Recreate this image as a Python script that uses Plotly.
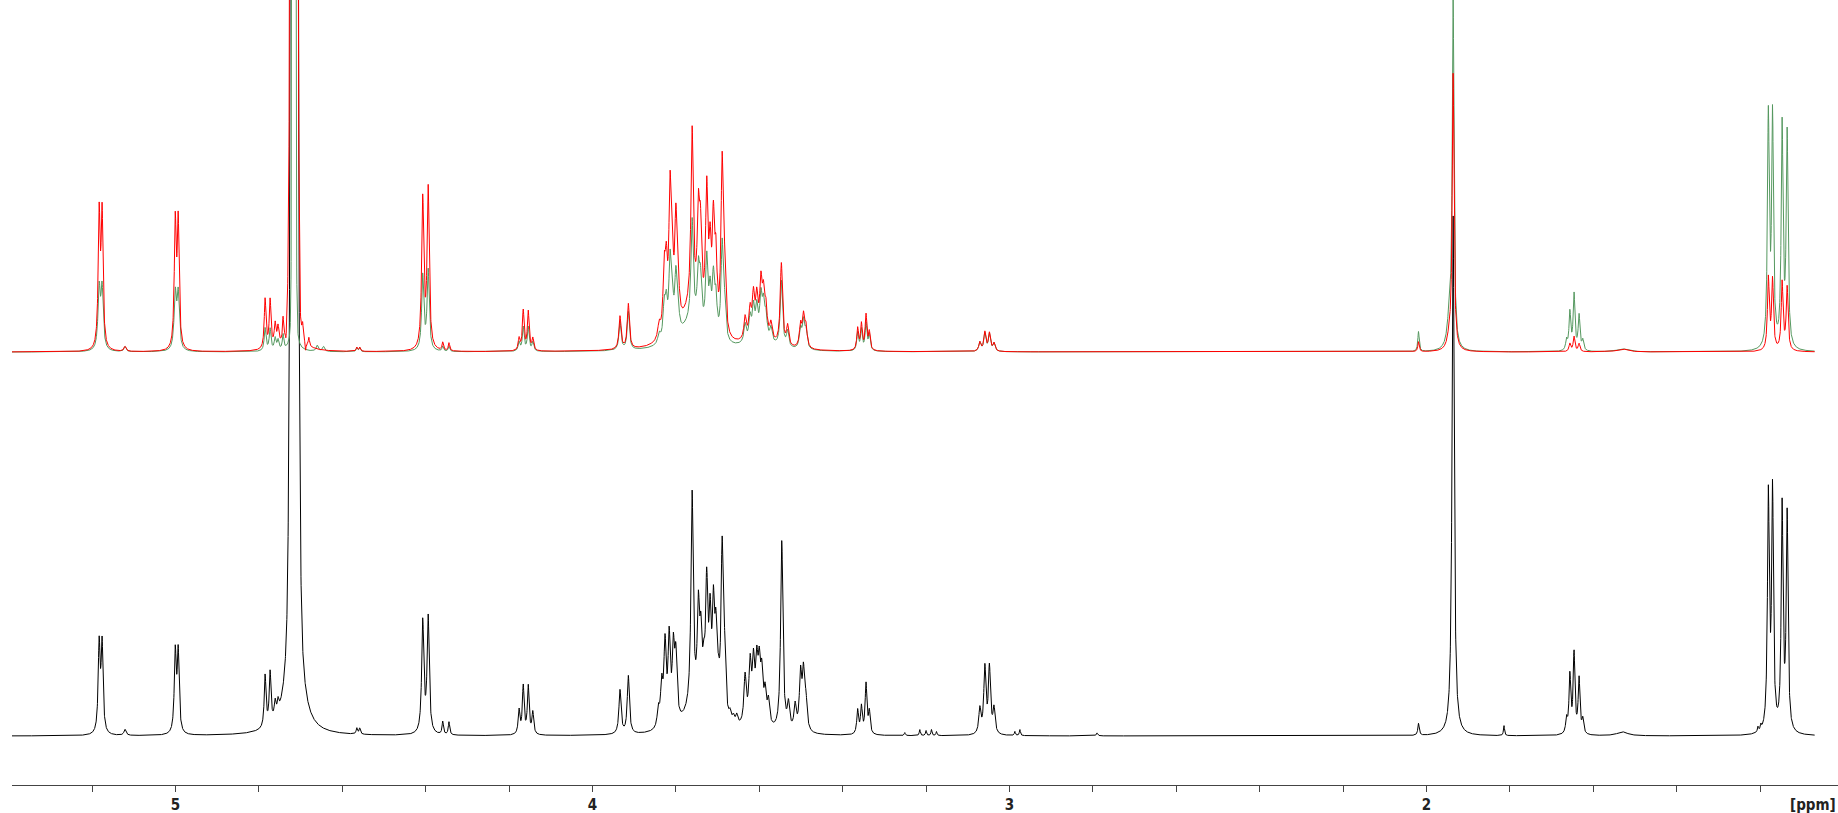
import numpy as np
import plotly.graph_objects as go

# ---------------- axis / layout values ----------------
x_range = [5.392, 1.013]          # ppm, reversed (NMR convention)
data_left, data_right = 5.392, 1.069
major_ticks = [5, 4, 3, 2]
major_labels = ["5", "4", "3", "2"]
black_base = 49                   # baseline offset of lower (black) spectrum
upper_base = 433                  # baseline offset of upper (red / green) spectra
y_top = 785

# ---------------- black (lower) spectrum: peak list ----------------
black_ppm = [5.183, 5.176, 5.121, 5.0005, 4.9935, 4.785, 4.773, 4.761, 4.754,
             4.565, 4.558, 4.407, 4.394, 4.359, 4.344, 4.176, 4.166, 4.154, 4.143,
             3.934, 3.914,
             3.842, 3.834, 3.826, 3.816, 3.806, 3.800, 3.761, 3.746, 3.740, 3.733,
             3.726, 3.718, 3.710, 3.704, 3.698, 3.689, 3.683, 3.670, 3.662, 3.654,
             3.634, 3.622, 3.614, 3.606, 3.600, 3.594, 3.586, 3.578, 3.546, 3.530,
             3.514, 3.501, 3.494, 3.488, 3.76, 3.61,
             3.364, 3.355, 3.344, 3.336, 3.251, 3.215, 3.200, 3.187, 3.175,
             3.071, 3.059, 3.048, 3.037, 2.987, 2.975, 2.79, 2.019, 1.936, 1.814,
             1.664, 1.656, 1.646, 1.634, 1.625, 1.53, 1.205, 1.198,
             1.180, 1.170, 1.147, 1.135]
black_int = [88, 88, 6, 80, 80, 52, 52, 16, 12,
             6, 6, 112, 116, 13, 13, 24, 48, 48, 22,
             44, 58,
             18, 40, 80, 85, 70, 62, 215, 95, 65, 35,
             125, 90, 100, 75, 25, 170, 55, 10, 8, 10,
             47, 55, 53, 51, 49, 44, 30, 24, 190, 25,
             25, 55, 55, 28, 20, 12,
             24, 27, 50, 22, 3, 6, 5, 6, 4,
             25, 66, 66, 25, 4, 6, 3, 12, 520, 10,
             14, 58, 80, 55, 14, 4, 5, 5,
             234, 238, 224, 216]
black_fwhm = [.0055, .0055, .006, .0055, .0055, .005, .005, .005, .005,
              .004, .004, .006, .006, .004, .004, .005, .005, .005, .005,
              .006, .006,
              .0065, .0065, .0065, .0065, .0065, .0065, .0065, .0065, .0065, .0065,
              .0065, .0065, .0065, .0065, .0065, .0065, .0065, .0065, .0065, .0065,
              .0065, .0065, .0065, .0065, .0065, .0065, .0065, .0065, .0065, .0065,
              .0065, .0065, .0065, .0065, .06, .05,
              .005, .005, .005, .005, .003, .003, .003, .003, .003,
              .006, .006, .006, .006, .003, .003, .004, .004, .006, .003,
              .005, .005, .005, .005, .005, .03, .003, .003,
              .0052, .0052, .0052, .0052]
black_water = [4.715, 3000, 0.013, 0.3]      # ppm, height, fwhm, lorentz fraction

# ---------------- red (upper) spectrum: peak list ----------------
red_ppm = [5.183, 5.176, 5.121, 5.0005, 4.9935, 4.785, 4.773, 4.761, 4.754,
           4.742, 4.735, 4.700, 4.695, 4.688, 4.680,
           4.565, 4.558, 4.407, 4.394, 4.359, 4.344, 4.176, 4.166, 4.154, 4.143,
           3.934, 3.914,
           3.840, 3.828, 3.823, 3.814, 3.809, 3.800, 3.795, 3.761, 3.746, 3.741,
           3.726, 3.718, 3.710, 3.704, 3.689, 3.683,
           3.634, 3.622, 3.614, 3.606, 3.596, 3.590, 3.584, 3.572, 3.547, 3.532,
           3.501, 3.494, 3.488, 3.76, 3.60,
           3.364, 3.355, 3.344, 3.336, 3.071, 3.059, 3.048, 3.037,
           2.019, 1.945, 1.936, 1.656, 1.646, 1.634, 1.53,
           1.180, 1.170, 1.147, 1.135]
red_int = [132, 132, 5, 124, 124, 50, 48, 22, 18,
           22, -12, -12, 12, -10, 8,
           4, 4, 150, 160, 8, 8, 12, 40, 39, 12,
           33, 45,
           15, 60, 60, 130, 70, 100, 40, 175, 90, 75,
           130, 70, 100, 65, 170, 55,
           22, 26, 38, 34, 48, 36, 26, 16, 82, 20,
           22, 30, 20, 40, 15,
           22, 26, 35, 18, 9, 19, 18, 8,
           10, 12, 275, 8, 15, 8, 3,
           72, 70, 68, 63]
red_fwhm = [.0055, .0055, .006, .0055, .0055, .005, .005, .005, .005,
            .003, .003, .003, .003, .003, .003,
            .004, .004, .006, .006, .004, .004, .005, .005, .005, .005,
            .006, .006,
            .008, .0065, .0065, .0065, .0065, .0065, .0065, .0065, .0065, .0065,
            .0065, .0065, .0065, .0065, .0065, .0065,
            .0065, .0065, .0065, .0065, .0065, .0065, .0065, .0065, .0065, .0065,
            .0065, .0065, .0065, .07, .06,
            .005, .005, .005, .005, .006, .006, .006, .006,
            .004, .012, .005, .005, .005, .005, .03,
            .0052, .0052, .0052, .0052]
red_water = [4.716, 2500, 0.012, 0.1]

# ---------------- green (upper) spectrum: peak list ----------------
green_ppm = [5.183, 5.176, 5.121, 5.0005, 4.9935, 4.785, 4.773, 4.761, 4.754,
             4.742, 4.66, 4.645,
             4.565, 4.558, 4.407, 4.394, 4.359, 4.344, 4.176, 4.166, 4.154, 4.143,
             3.934, 3.914,
             3.840, 3.828, 3.823, 3.814, 3.809, 3.800, 3.795, 3.761, 3.746, 3.741,
             3.726, 3.718, 3.710, 3.704, 3.689, 3.683,
             3.634, 3.622, 3.614, 3.606, 3.596, 3.590, 3.584, 3.572, 3.547, 3.532,
             3.501, 3.494, 3.488, 3.76, 3.60,
             3.364, 3.355, 3.344, 3.336, 3.071, 3.059, 3.048, 3.037,
             2.019, 1.945, 1.936, 1.664, 1.656, 1.646, 1.634, 1.625, 1.53,
             1.180, 1.170, 1.147, 1.135]
green_int = [60, 60, 5, 55, 55, 23, 22, 12, 10,
             15, 6, 5,
             4, 4, 75, 80, 5, 5, 9, 24, 24, 9,
             28, 38,
             10, 33, 33, 72, 40, 56, 24, 100, 50, 42,
             72, 40, 55, 36, 95, 32,
             18, 22, 30, 28, 38, 30, 22, 14, 66, 16,
             19, 26, 17, 28, 12,
             18, 21, 27, 16, 9, 18, 17, 8,
             20, 30, 345, 10, 38, 56, 35, 10, 3,
             230, 229, 221, 213]
green_fwhm = [.0065, .0065, .006, .0065, .0065, .005, .005, .005, .005,
              .004, .006, .006,
              .004, .004, .006, .006, .004, .004, .005, .005, .005, .005,
              .006, .006,
              .008, .0065, .0065, .0065, .0065, .0065, .0065, .0065, .0065, .0065,
              .0065, .0065, .0065, .0065, .0065, .0065,
              .0065, .0065, .0065, .0065, .0065, .0065, .0065, .0065, .0065, .0065,
              .0065, .0065, .0065, .07, .06,
              .005, .005, .005, .005, .006, .006, .006, .006,
              .004, .012, .005, .005, .005, .005, .005, .005, .03,
              .0052, .0052, .0052, .0052]
green_water = [4.716, 2000, 0.006, 0.1]

# ---------------- build spectra from the peak lists ----------------
ppm = np.arange(data_right, data_left, 0.0003)[::-1]


def lineshape(ppm_list, int_list, fwhm_list, water):
    y = np.zeros_like(ppm)
    for p, a, w in zip(ppm_list, int_list, fwhm_list):
        y += a / (1.0 + (2.0 * (ppm - p) / w) ** 2)
    p, a, w, eta = water
    d = (ppm - p) / w
    y += a * (eta / (1.0 + 4.0 * d * d) + (1 - eta) * np.exp(-4 * np.log(2) * d * d))
    return y


y_black = black_base + lineshape(black_ppm, black_int, black_fwhm, black_water)
y_red = upper_base + lineshape(red_ppm, red_int, red_fwhm, red_water)
y_green = upper_base + lineshape(green_ppm, green_int, green_fwhm, green_water)

fig = go.Figure()
fig.add_trace(go.Scatter(x=ppm, y=y_black, mode="lines",
                         line=dict(color="#000000", width=1), hoverinfo="skip"))
fig.add_trace(go.Scatter(x=ppm, y=y_green, mode="lines",
                         line=dict(color="#55985f", width=1), hoverinfo="skip"))
fig.add_trace(go.Scatter(x=ppm, y=y_red, mode="lines",
                         line=dict(color="#ff0000", width=1), hoverinfo="skip"))

fig.update_layout(
    width=1838, height=813,
    margin=dict(l=12, r=0, t=0, b=28),
    paper_bgcolor="white", plot_bgcolor="white",
    showlegend=False,
    xaxis=dict(range=x_range, showgrid=False, zeroline=False,
               showline=True, linecolor="#444444", linewidth=1,
               tickmode="array", tickvals=major_ticks, ticktext=major_labels,
               ticks="outside", ticklen=6, tickcolor="#444444",
               tickfont=dict(family="DejaVu Sans Condensed", size=15,
                             color="#222222", weight="bold"),
               minor=dict(tickmode="linear", tick0=1.0, dtick=0.2,
                          ticks="outside", ticklen=6, tickcolor="#444444")),
    yaxis=dict(range=[0, y_top], visible=False, showgrid=False, zeroline=False),
    annotations=[dict(text="[ppm]", xref="paper", yref="paper", x=1, y=0,
                      xanchor="right", yanchor="top", yshift=-9, showarrow=False,
                      font=dict(family="DejaVu Sans Condensed", size=15,
                                color="#222222", weight="bold"))],
)

fig.write_html("out.html", config={"displayModeBar": False},
               post_script="document.body.style.margin='0';")
